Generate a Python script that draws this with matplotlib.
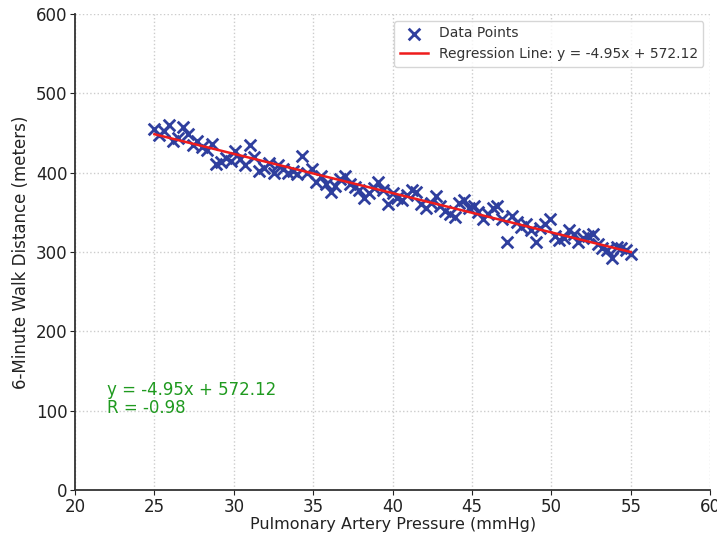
import numpy as np
import matplotlib
matplotlib.use('Agg')
import matplotlib.pyplot as plt

# pulmonary artery pressure (mmHg)
pressure = [25.0, 25.3, 25.6, 25.9, 26.2, 26.5, 26.8, 27.1, 27.4, 27.7,
            28.0, 28.3, 28.6, 28.9, 29.2, 29.5, 29.8, 30.1, 30.4, 30.7,
            31.0, 31.3, 31.6, 31.9, 32.2, 32.5, 32.8, 33.1, 33.4, 33.7,
            34.0, 34.3, 34.6, 34.9, 35.2, 35.5, 35.8, 36.1, 36.4, 36.7,
            37.0, 37.3, 37.6, 37.9, 38.2, 38.5, 38.8, 39.1, 39.4, 39.7,
            40.0, 40.3, 40.6, 40.9, 41.2, 41.5, 41.8, 42.1, 42.4, 42.7,
            43.0, 43.3, 43.6, 43.9, 44.2, 44.5, 44.8, 45.1, 45.4, 45.7,
            46.0, 46.3, 46.6, 46.9, 47.2, 47.5, 47.8, 48.1, 48.4, 48.7,
            49.0, 49.3, 49.6, 49.9, 50.2, 50.5, 50.8, 51.1, 51.4, 51.7,
            52.0, 52.3, 52.6, 52.9, 53.2, 53.5, 53.8, 54.1, 54.4, 54.7,
            55.0]

# 6-minute walk distance (meters)
walk = [455, 447, 452, 460, 440, 443, 457, 448, 435, 440,
        432, 428, 436, 411, 413, 418, 415, 427, 417, 410,
        435, 420, 402, 406, 412, 399, 410, 405, 400, 402,
        398, 421, 400, 405, 388, 396, 385, 376, 383, 392,
        396, 386, 382, 378, 368, 374, 380, 388, 378, 360,
        374, 368, 365, 372, 378, 376, 360, 355, 362, 370,
        358, 352, 348, 344, 362, 365, 355, 358, 350, 342,
        348, 356, 358, 342, 313, 345, 338, 332, 335, 328,
        313, 330, 335, 341, 320, 315, 318, 328, 322, 312,
        318, 320, 322, 310, 305, 302, 292, 306, 305, 302,
        298]

slope = -4.95
intercept = 572.12
r_value = -0.98

x = np.array(pressure)
fit = slope * x + intercept

fig = plt.figure(figsize=(7.17, 5.38), dpi=100)
ax = fig.add_axes([0.1046, 0.0892, 0.886, 0.885])

ax.scatter(x, walk, marker='x', color='#2f3f9e', s=70, linewidths=2,
           label='Data Points', zorder=3)
ax.plot(x, fit, color='#ee1c1c', linewidth=1.8,
        label='Regression Line: y = {:.2f}x + {:.2f}'.format(slope, intercept), zorder=4)

ax.text(22, 137, 'y = {:.2f}x + {:.2f}\nR = {:.2f}'.format(slope, intercept, r_value),
        color='#1f9a1f', fontsize=12, va='top', ha='left', linespacing=1.0)

ax.set_xlim(20, 60)
ax.set_ylim(0, 600)
ax.set_xticks(np.arange(20, 61, 5))
ax.set_yticks(np.arange(0, 601, 100))
ax.tick_params(labelsize=12, colors='#222222', pad=2)
ax.set_xlabel('Pulmonary Artery Pressure (mmHg)', fontsize=11.5, color='#222222', labelpad=1)
ax.set_ylabel('6-Minute Walk Distance (meters)', fontsize=12, color='#222222')
ax.grid(color='#cccccc', linestyle='dotted', linewidth=1)
ax.set_axisbelow(True)
for s in ['top', 'right']:
    ax.spines[s].set_visible(False)
for s in ['left', 'bottom']:
    ax.spines[s].set_linewidth(1.3)
    ax.spines[s].set_color('#333333')

leg = ax.legend(loc='upper right', fontsize=10, frameon=True)
for t in leg.get_texts():
    t.set_color('#333333')

fig.savefig('out.png', dpi=100)
